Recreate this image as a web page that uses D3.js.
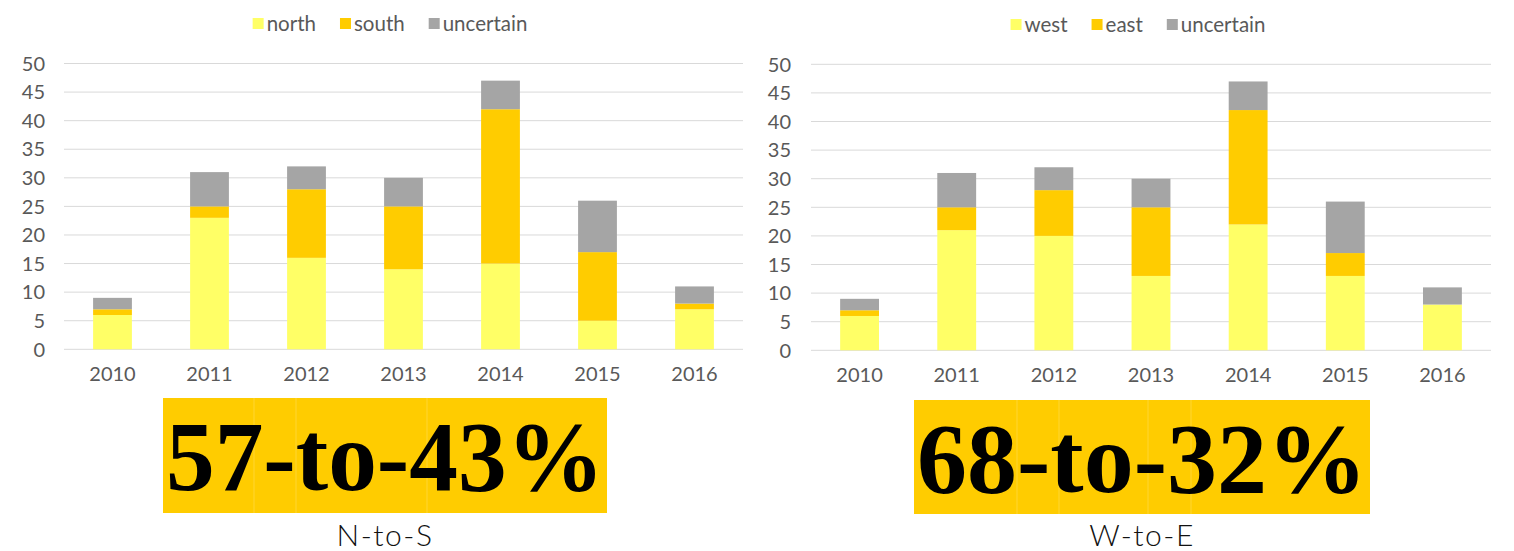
<!DOCTYPE html>
<html>
<head>
<meta charset="utf-8">
<script src="https://cdn.jsdelivr.net/npm/d3@7"></script>
<style>
  html, body { margin: 0; padding: 0; background: #fff; }
  svg { display: block; }
</style>
</head>
<body>
<svg id="chart" width="1514" height="551"></svg>
<script>
const years = ["2010", "2011", "2012", "2013", "2014", "2015", "2016"];
const yTicks = [0, 5, 10, 15, 20, 25, 30, 35, 40, 45, 50];

// Left chart: north / south / uncertain
const leftSeriesNames = ["north", "south", "uncertain"];
const north = [6, 23, 16, 14, 15, 5, 7];
const south = [1, 2, 12, 11, 27, 12, 1];
const uncertainNS = [2, 6, 4, 5, 5, 9, 3];

// Right chart: west / east / uncertain
const rightSeriesNames = ["west", "east", "uncertain"];
const west = [6, 21, 20, 13, 22, 13, 8];
const east = [1, 4, 8, 12, 20, 4, 0];
const uncertainWE = [2, 6, 4, 5, 5, 9, 3];

const headlineLeft = "57-to-43%";
const headlineRight = "68-to-32%";
const captionLeft = "N-to-S";
const captionRight = "W-to-E";

const colors = ["#FFFF66", "#FFCC00", "#A5A5A5"];

const svg = d3.select("#chart");
const font = "Lato, 'Open Sans', sans-serif";

function drawChart(cfg) {
  const g = svg.append("g");
  const x = d3.scaleBand().domain(years).range([cfg.x0, cfg.x1])
    .paddingInner(0.6).paddingOuter(0.3);
  const y = d3.scaleLinear().domain([0, 50]).range([cfg.y0, cfg.y50]);

  // gridlines
  g.append("g").selectAll("line").data(yTicks).join("line")
    .attr("x1", cfg.x0).attr("x2", cfg.x1)
    .attr("y1", d => y(d)).attr("y2", d => y(d))
    .attr("stroke", "#d9d9d9").attr("stroke-width", 1);

  // y tick labels
  g.append("g").selectAll("text").data(yTicks).join("text")
    .attr("x", cfg.labelX).attr("y", d => y(d))
    .attr("dy", "0.36em")
    .attr("text-anchor", "end")
    .attr("font-family", font).attr("font-size", 20)
    .attr("fill", "#595959")
    .text(d => d);

  // stacked bars
  const rows = years.map((yr, i) => {
    const o = { year: yr };
    cfg.names.forEach((n, k) => o[n] = cfg.series[k][i]);
    return o;
  });
  const stack = d3.stack().keys(cfg.names)(rows);
  g.append("g").selectAll("g").data(stack).join("g")
    .attr("fill", (d, i) => colors[i])
    .selectAll("rect").data(d => d).join("rect")
    .attr("x", d => x(d.data.year))
    .attr("width", x.bandwidth())
    .attr("y", d => y(d[1]))
    .attr("height", d => y(d[0]) - y(d[1]));

  // x labels
  g.append("g").selectAll("text").data(years).join("text")
    .attr("x", d => x(d) + x.bandwidth() / 2)
    .attr("y", cfg.y0 + 32)
    .attr("text-anchor", "middle")
    .attr("font-family", font).attr("font-size", 20)
    .attr("fill", "#595959")
    .text(d => d);

  // legend
  const leg = g.append("g");
  let cx = 0;
  const gap = 24;
  cfg.names.forEach((n, i) => {
    const it = leg.append("g");
    it.append("rect").attr("x", 0).attr("y", -5).attr("width", 11).attr("height", 11)
      .attr("fill", colors[i]);
    const t = it.append("text").attr("x", 14).attr("y", 0).attr("dy", "0.38em")
      .attr("font-family", font).attr("font-size", 20.5).attr("fill", "#595959")
      .text(n);
    const w = 14 + t.node().getComputedTextLength();
    it.attr("transform", `translate(${cx},0)`);
    cx += w + gap;
  });
  const total = cx - gap;
  leg.attr("transform", `translate(${cfg.legendCenter - total / 2},${cfg.legendY})`);

  // headline box
  const bx = cfg.box;
  const hb = g.append("g");
  hb.append("rect").attr("x", bx.x).attr("y", bx.y).attr("width", bx.w).attr("height", bx.h)
    .attr("fill", "#FFCC00");
  hb.selectAll("line").data(bx.seps).join("line")
    .attr("x1", d => d).attr("x2", d => d).attr("y1", bx.y).attr("y2", bx.y + bx.h)
    .attr("stroke", "#FFD633").attr("stroke-width", 1);
  hb.append("text")
    .attr("x", bx.x + bx.w / 2).attr("y", bx.baseline)
    .attr("text-anchor", "middle")
    .attr("font-family", "'Liberation Serif', 'DejaVu Serif', serif")
    .attr("font-weight", "bold").attr("font-size", 100)
    .attr("textLength", bx.textW).attr("lengthAdjust", "spacingAndGlyphs")
    .attr("fill", "#000")
    .text(cfg.headline);

  g.append("text")
    .attr("x", bx.x + bx.w / 2).attr("y", 546)
    .attr("text-anchor", "middle")
    .attr("font-family", font).attr("font-weight", 300).attr("font-size", 30)
    .attr("letter-spacing", 1.5)
    .attr("fill", "#111")
    .text(cfg.caption);
}

drawChart({
  x0: 64, x1: 743, y0: 349.3, y50: 63.5, labelX: 45,
  names: leftSeriesNames, series: [north, south, uncertainNS],
  legendCenter: 390, legendY: 23,
  box: { x: 163, y: 398, w: 444, h: 115, seps: [254, 296, 427], baseline: 490, textW: 438 },
  headline: headlineLeft, caption: captionLeft
});

drawChart({
  x0: 811, x1: 1491, y0: 350.3, y50: 64.3, labelX: 791,
  names: rightSeriesNames, series: [west, east, uncertainWE],
  legendCenter: 1138, legendY: 24,
  box: { x: 914, y: 400, w: 456, h: 114, seps: [1017, 1059, 1148, 1191], baseline: 492, textW: 450 },
  headline: headlineRight, caption: captionRight
});
</script>
</body>
</html>
